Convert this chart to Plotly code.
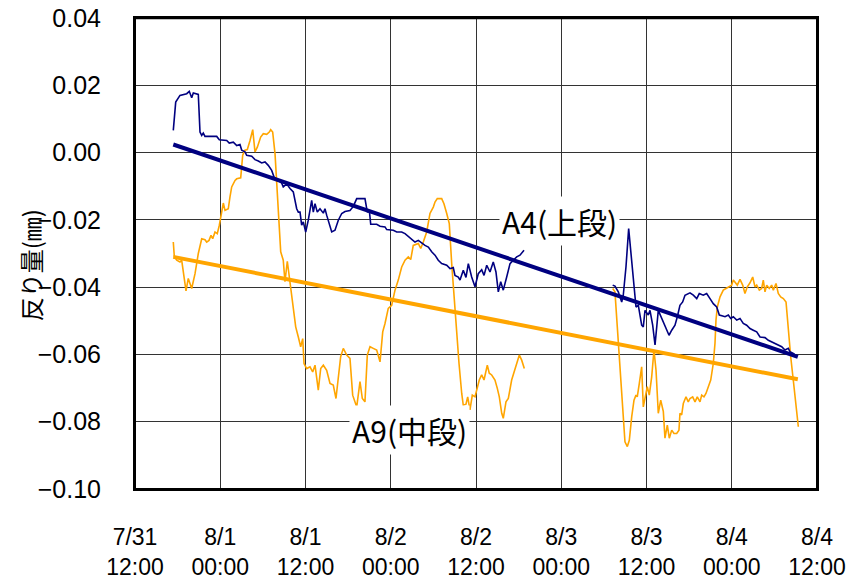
import plotly.graph_objects as go
from datetime import datetime, timedelta

BASE = datetime(2009, 7, 31, 12, 0)

# ---- A4 (上段) : hours from 7/31 12:00, values (mm)
a4_h1 = [5.39, 5.73, 6.33, 6.80, 7.28, 7.64, 7.98, 8.21, 8.68, 8.91, 9.15, 9.39, 9.61, 9.85,
         11.50, 11.87, 12.91, 13.27, 13.84, 14.32, 14.78, 15.02, 15.48, 15.72, 16.43, 16.89,
         17.36, 17.83, 18.30, 18.76, 19.24, 19.57, 20.17, 20.65, 20.87, 21.35, 21.82, 22.28,
         22.76, 22.99, 23.23, 23.46, 23.69, 24.03, 24.39, 24.87, 25.10, 25.34, 25.66, 26.04,
         26.51, 26.74, 26.98, 27.21, 27.69, 28.15, 28.62, 29.10, 29.56, 30.26, 30.73, 31.21,
         32.37, 32.70, 32.98, 33.18, 34.02, 34.49,
         35.19, 35.43, 36.36, 36.84, 37.54, 38.01, 38.47, 38.95, 39.41, 39.88, 40.36, 40.82,
         41.29, 41.76, 42.23, 42.69, 43.17, 43.88, 44.34, 44.80, 45.04, 45.51, 45.75, 46.21,
         46.59, 46.92, 47.39, 47.86, 48.32, 48.80, 49.13, 49.51, 49.97, 50.43, 50.81, 51.14,
         51.48, 51.84, 52.32, 52.79, 53.25, 53.73, 54.19, 54.76]
a4_v1 = [0.0066, 0.0150, 0.0170, 0.0173, 0.0175, 0.0182, 0.0163, 0.0177, 0.0173, 0.0173,
         0.0061, 0.0051, 0.0058, 0.0048,
         0.0048, 0.0038, 0.0036, 0.0028, 0.0031, 0.0021, 0.0024, 0.0007, 0.0002, -0.0008,
         -0.0011, -0.0021, -0.0025, -0.0031, -0.0028, -0.0038, -0.0053, -0.0073, -0.0083,
         -0.0091, -0.0102, -0.0093, -0.0107, -0.0117, -0.0167, -0.0177, -0.0177, -0.0216,
         -0.0206, -0.0236, -0.0201, -0.0142, -0.0177, -0.0152, -0.0177, -0.0167, -0.0180,
         -0.0167, -0.0186, -0.0201, -0.0236, -0.0231, -0.0201, -0.0181, -0.0175, -0.0172,
         -0.0160, -0.0137, -0.0137, -0.0177, -0.0172, -0.0213, -0.0213, -0.0219,
         -0.0221, -0.0229, -0.0231, -0.0236, -0.0236, -0.0241, -0.0249, -0.0256, -0.0266,
         -0.0261, -0.0269, -0.0276, -0.0281, -0.0295, -0.0305, -0.0320, -0.0330, -0.0335,
         -0.0345, -0.0342, -0.0365, -0.0370, -0.0379, -0.0350, -0.0371, -0.0330, -0.0370,
         -0.0399, -0.0360, -0.0348, -0.0365, -0.0335, -0.0355, -0.0325, -0.0355, -0.0414,
         -0.0384, -0.0409, -0.0370, -0.0330, -0.0320, -0.0310, -0.0305, -0.0290]

a4_h2 = [67.24, 67.56, 68.03, 68.51, 68.73, 69.11, 69.49, 69.78, 70.14, 70.52, 70.85, 71.32,
         71.55, 71.79, 72.25, 72.49, 72.87, 73.20, 73.66, 74.14, 74.60, 75.17, 75.55, 76.01,
         76.34, 76.71, 77.09, 77.42, 78.12, 78.59, 79.07, 79.43, 79.99, 80.47, 80.94, 81.40,
         81.88, 82.25, 82.73, 83.05, 83.52, 83.85, 84.22, 84.70, 85.16, 85.62, 86.10, 86.57,
         87.03, 87.51, 87.98, 88.68, 89.15, 89.62, 90.09, 90.55, 91.03, 91.49, 91.96, 92.20,
         92.66, 93.14]
a4_v2 = [-0.0394, -0.0397, -0.0414, -0.0444, -0.0424, -0.0340, -0.0226, -0.0290, -0.0384,
         -0.0459, -0.0454, -0.0513, -0.0518, -0.0469, -0.0483, -0.0469, -0.0513, -0.0572,
         -0.0469, -0.0493, -0.0518, -0.0543, -0.0528, -0.0513, -0.0488, -0.0454, -0.0444,
         -0.0424, -0.0417, -0.0424, -0.0434, -0.0419, -0.0424, -0.0419, -0.0434, -0.0449,
         -0.0459, -0.0483, -0.0486, -0.0488, -0.0483, -0.0493, -0.0488, -0.0498, -0.0493,
         -0.0508, -0.0513, -0.0523, -0.0528, -0.0533, -0.0548, -0.0550, -0.0558, -0.0563,
         -0.0566, -0.0572, -0.0577, -0.0587, -0.0582, -0.0592, -0.0597, -0.0605]

# ---- A9 (中段)
a9_h1 = [5.39, 5.53, 5.87, 6.33, 6.57, 6.90, 7.18, 7.50, 7.98, 8.45, 8.91, 9.39, 9.85, 10.09,
         10.42, 10.70, 10.94, 11.26, 11.58, 11.87, 12.20, 12.43, 12.67, 13.13, 13.37, 13.61,
         14.08, 14.32, 14.88, 15.16, 15.48, 15.81, 16.19, 16.57, 16.89, 17.22, 17.69, 18.06,
         18.54, 18.90, 19.10, 19.38, 19.71, 19.95, 20.17, 20.51, 20.87, 21.11, 21.44, 21.82,
         22.28, 22.62, 22.99, 23.32, 23.61, 23.79, 24.17, 24.63, 25.01, 25.34, 25.80, 26.14,
         26.51, 26.98, 27.45, 27.91, 28.29, 28.62, 28.95, 29.32, 29.80, 30.26, 30.64, 31.21,
         31.67, 32.00, 32.37, 32.70, 33.08, 33.54, 34.02, 34.49,
         34.87, 35.19, 35.65, 36.13, 36.60, 37.06, 37.54, 38.01, 38.47, 38.81, 39.17, 39.88,
         40.22, 40.58, 41.06, 41.52, 41.99, 42.23, 42.55, 43.17, 43.49, 43.88, 44.24, 44.58,
         44.90, 45.28, 45.61, 45.99, 46.21, 46.59, 46.83, 47.15, 47.48, 47.86, 48.10, 48.46,
         48.80, 49.13, 49.59, 49.87, 50.21, 50.67, 51.00, 51.28, 51.62, 51.84, 52.22, 52.55,
         53.02, 53.35, 53.73, 54.10, 54.43, 54.80]
a9_v1 = [-0.0266, -0.0308, -0.0320, -0.0325, -0.0320, -0.0370, -0.0411, -0.0374, -0.0404,
         -0.0360, -0.0300, -0.0256, -0.0259, -0.0266, -0.0261, -0.0246, -0.0256, -0.0236,
         -0.0241, -0.0216, -0.0172, -0.0150, -0.0172, -0.0167, -0.0132, -0.0102, -0.0083,
         -0.0078, -0.0075, -0.0008, 0.0007, 0.0009, 0.0036, 0.0068, 0.0002, 0.0016, 0.0046,
         0.0056, 0.0054, 0.0061, 0.0068, 0.0061, -0.0003, -0.0083, -0.0181, -0.0295, -0.0320,
         -0.0384, -0.0323, -0.0389, -0.0459, -0.0518, -0.0548, -0.0577, -0.0553, -0.0627,
         -0.0642, -0.0637, -0.0652, -0.0632, -0.0706, -0.0642, -0.0632, -0.0647, -0.0686,
         -0.0691, -0.0731, -0.0676, -0.0607, -0.0582, -0.0602, -0.0612, -0.0721, -0.0756,
         -0.0681, -0.0731, -0.0741, -0.0602, -0.0577, -0.0582, -0.0587, -0.0622,
         -0.0533, -0.0508, -0.0463, -0.0454, -0.0409, -0.0379, -0.0340, -0.0320, -0.0310,
         -0.0318, -0.0276, -0.0270, -0.0285, -0.0266, -0.0236, -0.0181, -0.0162, -0.0147,
         -0.0137, -0.0137, -0.0152, -0.0181, -0.0211, -0.0330, -0.0429, -0.0528, -0.0627,
         -0.0716, -0.0751, -0.0748, -0.0726, -0.0765, -0.0721, -0.0726, -0.0706, -0.0676,
         -0.0661, -0.0676, -0.0632, -0.0656, -0.0661, -0.0676, -0.0701, -0.0726, -0.0775,
         -0.0790, -0.0741, -0.0731, -0.0676, -0.0652, -0.0632, -0.0602, -0.0617, -0.0642]

a9_h2 = [67.24, 67.56, 67.89, 68.27, 68.65, 68.97, 69.30, 69.58, 69.92, 70.24, 70.52, 70.70,
         70.99, 71.32, 71.55, 71.89, 72.11, 72.39, 72.73, 73.05, 73.34, 73.66, 74.00, 74.37,
         74.60, 74.93, 75.21, 75.55, 75.87, 76.25, 76.57, 76.71, 76.95, 77.18, 77.56, 77.88,
         78.12, 78.50, 78.83, 79.15, 79.53, 79.77, 80.09, 80.37, 80.70, 81.04, 81.40, 81.64,
         81.78, 81.97, 82.35, 82.81, 83.19, 83.52, 83.99, 84.22, 84.60, 84.78, 85.16, 85.54,
         85.86, 86.19, 86.57, 86.95, 87.27, 87.51, 87.88, 88.21, 88.44, 88.68, 88.92, 89.28,
         89.62, 89.85, 90.23, 90.55, 90.89, 91.26, 91.64, 91.96, 92.30, 92.66, 93.00, 93.37]
a9_v2 = [-0.0404, -0.0414, -0.0518, -0.0647, -0.0765, -0.0860, -0.0874, -0.0855, -0.0785,
         -0.0736, -0.0721, -0.0726, -0.0686, -0.0637, -0.0756, -0.0721, -0.0696, -0.0721,
         -0.0667, -0.0587, -0.0647, -0.0775, -0.0736, -0.0770, -0.0849, -0.0810, -0.0849,
         -0.0825, -0.0835, -0.0835, -0.0825, -0.0775, -0.0780, -0.0746, -0.0726, -0.0741,
         -0.0731, -0.0726, -0.0741, -0.0726, -0.0741, -0.0721, -0.0726, -0.0716, -0.0696,
         -0.0676, -0.0627, -0.0567, -0.0498, -0.0459, -0.0429, -0.0409, -0.0404, -0.0399,
         -0.0394, -0.0379, -0.0389, -0.0394, -0.0377, -0.0394, -0.0419, -0.0399, -0.0387,
         -0.0370, -0.0399, -0.0394, -0.0409, -0.0404, -0.0379, -0.0414, -0.0394, -0.0404,
         -0.0394, -0.0409, -0.0389, -0.0419, -0.0429, -0.0434, -0.0444, -0.0538, -0.0607,
         -0.0676, -0.0736, -0.0815]

# ---- linear trend lines (start / end)
trend_h = [5.39, 93.30]
a4_trend = [0.0024, -0.0607]
a9_trend = [-0.0310, -0.0674]

# ---- axis ticks
y_ticks = [0.04, 0.02, 0.00, -0.02, -0.04, -0.06, -0.08, -0.10]
x_tick_hours = [0, 12, 24, 36, 48, 60, 72, 84, 96]
x_tick_text = ["7/31<br>12:00", "8/1<br>00:00", "8/1<br>12:00", "8/2<br>00:00", "8/2<br>12:00",
               "8/3<br>00:00", "8/3<br>12:00", "8/4<br>00:00", "8/4<br>12:00"]

NAVY = "#000080"
ORANGE = "#FFA500"


def to_dt(hours):
    return [BASE + timedelta(hours=h) for h in hours]


def join(h1, v1, h2, v2):
    return to_dt(h1) + [None] + to_dt(h2), v1 + [None] + v2


fig = go.Figure()
x9, y9 = join(a9_h1, a9_v1, a9_h2, a9_v2)
x4, y4 = join(a4_h1, a4_v1, a4_h2, a4_v2)
fig.add_trace(go.Scatter(x=x9, y=y9, mode="lines", line=dict(color=ORANGE, width=1.6),
                         connectgaps=False, name="A9", hoverinfo="skip"))
fig.add_trace(go.Scatter(x=x4, y=y4, mode="lines", line=dict(color=NAVY, width=1.6),
                         connectgaps=False, name="A4", hoverinfo="skip"))
fig.add_trace(go.Scatter(x=to_dt(trend_h), y=a9_trend, mode="lines",
                         line=dict(color=ORANGE, width=4), name="A9 trend", hoverinfo="skip"))
fig.add_trace(go.Scatter(x=to_dt(trend_h), y=a4_trend, mode="lines",
                         line=dict(color=NAVY, width=4), name="A4 trend", hoverinfo="skip"))

fig.update_layout(
    width=852, height=578,
    margin=dict(l=135, r=35, t=18, b=89),
    paper_bgcolor="white", plot_bgcolor="white",
    showlegend=False,
    hovermode=False,
    font=dict(family="Liberation Sans", color="black"),
    xaxis=dict(
        range=[BASE, BASE + timedelta(hours=96)],
        tickmode="array",
        tickvals=to_dt(x_tick_hours),
        ticktext=x_tick_text,
        tickfont=dict(family="Liberation Sans", size=23),
        showgrid=True, gridcolor="#333333", gridwidth=1,
        showline=True, linecolor="black", linewidth=2, mirror=True,
        ticks="outside", ticklen=26, tickcolor="rgba(0,0,0,0)",
        zeroline=False, automargin=False,
    ),
    yaxis=dict(
        range=[-0.10, 0.04],
        tickmode="array",
        tickvals=y_ticks,
        tickformat=".2f",
        tickfont=dict(family="Liberation Sans", size=25),
        showgrid=True, gridcolor="#333333", gridwidth=1,
        showline=True, linecolor="black", linewidth=2, mirror=True,
        ticks="outside", ticklen=27, tickcolor="rgba(0,0,0,0)",
        zeroline=False, automargin=False,
    ),
    shapes=[
        dict(type="rect", xref="paper", yref="paper", x0=0, x1=1, y0=0, y1=1,
             line=dict(color="black", width=2), fillcolor="rgba(0,0,0,0)", layer="above"),
        dict(type="line", xref="paper", yref="paper", x0=0, x1=1, y0=1, y1=1,
             line=dict(color="#000000", width=2.5)),
    ],
    annotations=[
        dict(text="A4(上段)", xref="paper", yref="paper", x=0.6224, y=0.568,
             xanchor="center", yanchor="middle",
             showarrow=False, bgcolor="white", borderpad=2,
             font=dict(family="Noto Sans CJK JP", size=30, color="black")),
        dict(text="A9(中段)", xref="paper", yref="paper", x=0.403, y=0.125,
             xanchor="center", yanchor="middle",
             showarrow=False, bgcolor="white", borderpad=2,
             font=dict(family="Noto Sans CJK JP", size=30, color="black")),
        dict(text="反り量(㎜)", xref="paper", yref="paper", x=-0.154, y=0.475,
             xanchor="center", yanchor="middle",
             showarrow=False, textangle=-90,
             font=dict(family="Noto Sans CJK JP", size=24, color="black")),
    ],
)

# remove the browser's default 8px page margin so the figure sits at the window origin
fig.write_html("out.html", config={"displayModeBar": False, "staticPlot": True},
               post_script="document.body.style.margin='0';")
